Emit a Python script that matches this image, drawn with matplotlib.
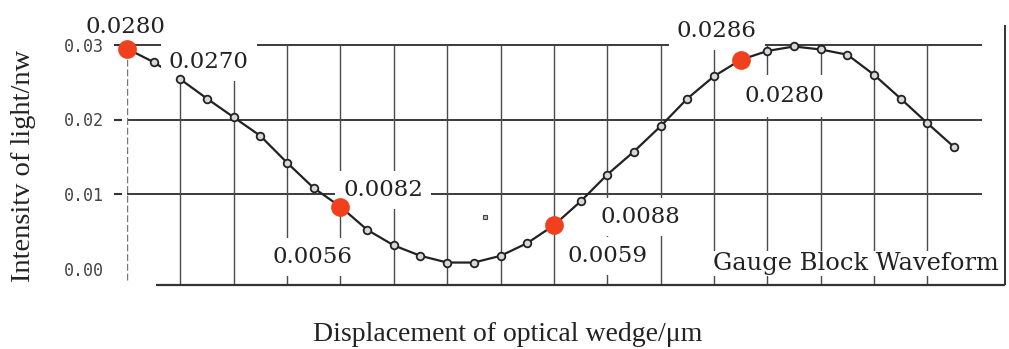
import matplotlib
matplotlib.use("Agg")
import matplotlib.pyplot as plt

# ---------------- data ----------------
positions = list(range(32))
intensity = [0.0295, 0.0277, 0.0254, 0.0228, 0.0203, 0.0178, 0.0142, 0.0108,
             0.0083, 0.0052, 0.0031, 0.0017, 0.0008, 0.0008, 0.0017, 0.0034,
             0.0058, 0.0090, 0.0126, 0.0157, 0.0191, 0.0228, 0.0258, 0.0280,
             0.0292, 0.0298, 0.0294, 0.0287, 0.0260, 0.0228, 0.0195, 0.0163]
highlight_idx = [0, 8, 16, 23]
stray_x = [13.4]
stray_y = [0.0069]
ytick_values = [0.00, 0.01, 0.02, 0.03]
ytick_labels = ["0.00", "0.01", "0.02", "0.03"]
gridline_y = [0.01, 0.02, 0.03]
gridline_x = list(range(2, 31, 2))
annot_texts = ["0.0280", "0.0270", "0.0082", "0.0056", "0.0088", "0.0059", "0.0286", "0.0280"]
annot_anchor = [0, 1, 8, 8, 16, 16, 23, 23]
annot_offsets = [(-2, 15.7), (55, -6), (43, 10.5), (-28, -56.5),
                 (86, 2), (54, -37), (-24, 23), (44, -42)]
annot_pads = [None, 0.35, 0.35, 0.35, 0.35, 0.35, 0.35, 0.45]
title_text = "Gauge Block Waveform"
xlabel_text = "Displacement of optical wedge/\u03bcm"
ylabel_text = "Intensitv of light/nw"

# ---------------- layout ----------------
W, H = 1009, 349
STEP = 26.68
X0 = 127.0
Y0 = 268.5
PPU = 7450.0

def fx(px):
    return (px - X0) / STEP

def fy(py):
    return (Y0 - py) / PPU

fig = plt.figure(figsize=(W / 100, H / 100), dpi=100)
fig.patch.set_facecolor("white")
ax = fig.add_axes([X0 / W, 1 - 290 / H, (1008 - X0) / W, 270 / H])
ax.set_xlim(0, fx(1008))
ax.set_ylim(fy(290), fy(20))
for s in ax.spines.values():
    s.set_visible(False)
ax.set_xticks([])
ax.set_yticks(ytick_values)
ax.set_yticklabels(ytick_labels, fontfamily="DejaVu Sans Mono", fontsize=12, color="#444444")
ax.tick_params(axis="y", length=0, pad=17)

# short detached tick marks (left of the first grid column)
for yv in gridline_y:
    ax.plot([fx(114), fx(122)], [yv, yv], color="#333333", lw=1.5,
            zorder=2, clip_on=False, solid_capstyle="butt")

# grid / frame
ax.hlines(gridline_y, 0, fx(982), colors="#3a3a3a", lw=1.4, zorder=1)
ax.vlines(gridline_x, fy(285), gridline_y[-1], colors="#4a4a4a", lw=1.0, zorder=1)
ax.vlines([0], fy(280), gridline_y[-1], colors="#777777", lw=1.0,
          linestyles=(0, (5, 2)), zorder=1)
ax.hlines([fy(285)], fx(156), fx(1005), colors="#333333", lw=1.6, zorder=1, clip_on=False)
ax.vlines([fx(1005)], fy(285), fy(25), colors="#333333", lw=1.4, zorder=1, clip_on=False)

# data
ax.plot(positions, intensity, color="#222222", lw=1.6, zorder=3, clip_on=False)
ax.plot(positions, intensity, ls="none", marker="o", ms=5.5, mfc="#d8d8d8",
        mec="#222222", mew=1.3, zorder=6, clip_on=False)
ax.plot([positions[i] for i in highlight_idx], [intensity[i] for i in highlight_idx],
        ls="none", marker="o", ms=13.5, mfc="#f0401e", mec="none", zorder=7, clip_on=False)
ax.plot(stray_x, stray_y, ls="none", marker="s", ms=3.2, mfc="#bbbbbb",
        mec="#444444", mew=0.8, zorder=6)

for t, a, (dx, dy), pad in zip(annot_texts, annot_anchor, annot_offsets, annot_pads):
    bb = None
    if pad is not None:
        bb = dict(boxstyle="square,pad=%.2f" % pad, fc="white", ec="none")
    ax.annotate(t, (positions[a], intensity[a]), xytext=(dx, dy),
                textcoords="offset pixels", ha="center", va="baseline",
                fontfamily="DejaVu Serif", fontsize=16.5, color="#222222",
                zorder=5, bbox=bb, annotation_clip=False)

fig.text(713 / W, 1 - 270 / H, title_text, ha="left", va="baseline",
         fontfamily="DejaVu Serif", fontsize=17.4, color="#222222",
         bbox=dict(boxstyle="square,pad=0.05", fc="white", ec="none"))
fig.text(23.5 / W, 1 - 166 / H, ylabel_text, rotation=90, ha="center", va="center",
         fontfamily="Liberation Serif", fontsize=20.5, color="#222222")
fig.text(507.5 / W, 1 - 341 / H, xlabel_text, ha="center", va="baseline",
         fontfamily="Liberation Serif", fontsize=20, color="#222222")

fig.savefig("out.png", dpi=100, facecolor="white")
